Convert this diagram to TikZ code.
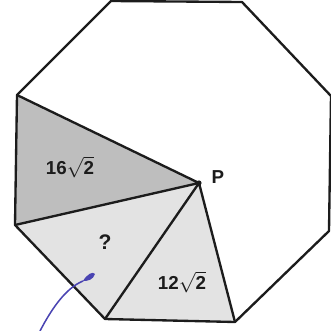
\documentclass[tikz,border=0pt]{standalone}
\usepackage{fontspec}
\setmainfont{Liberation Sans}
\usetikzlibrary{calc}
\definecolor{octdark}{HTML}{BEBEBE}
\definecolor{octlight}{HTML}{E3E3E3}
\definecolor{octink}{HTML}{1C1C1C}
\definecolor{penblue}{HTML}{4A44B2}
\tikzset{
  edge/.style={draw=octink, line width=2pt, line join=round},
  lbl/.style={font=\bfseries\fontsize{16}{18}\selectfont, text=octink, inner sep=1pt},
  pen/.style={draw=penblue, line width=1.3pt, line cap=round},
}

\begin{document}
\begin{tikzpicture}[x=0.03cm, y=-0.03cm]
    \useasboundingbox (0,0) rectangle (331,331);
    % corners of the octagon, clockwise from the top left
    \coordinate (a) at (111,1);
    \coordinate (b) at (242,2);
    \coordinate (c) at (331,96);
    \coordinate (d) at (329,231);
    \coordinate (e) at (235,322);
    \coordinate (f) at (105,319);
    \coordinate (g) at (15,225);
    \coordinate (h) at (17,95);
    \coordinate (P) at (199,183);
    \fill[octdark] (h) -- (g) -- (P) -- cycle;
    \fill[octlight] (g) -- (f) -- (e) -- (P) -- cycle;
    \draw[edge] (a) -- (b) -- (c) -- (d) -- (e) -- (f) -- (g) -- (h) -- cycle;
    \draw[edge] (h) -- (P) -- (g);
    \draw[edge] (f) -- (P) -- (e);
    \fill[octink] (P) circle (2.6);
    \node[lbl] (pl) at (218,177) {P};
    \node[lbl] (big) at (70,167) {16$\sqrt{\textbf{2}}$};
    \node[lbl, font=\bfseries\fontsize{18}{20}\selectfont] (ask) at (105,242) {?};
    \node[lbl] (small) at (182,282) {12$\sqrt{\textbf{2}}$};
    % pen stroke
    \coordinate (tip) at (83,281);
    \draw[pen] (40,331) .. controls (52,308) and (66,288) .. (tip);
    \fill[penblue] (tip) .. controls (87,274) and (93,271) .. (95,274) .. controls (93,280) and (88,281) .. (tip);
\end{tikzpicture}
\end{document}
